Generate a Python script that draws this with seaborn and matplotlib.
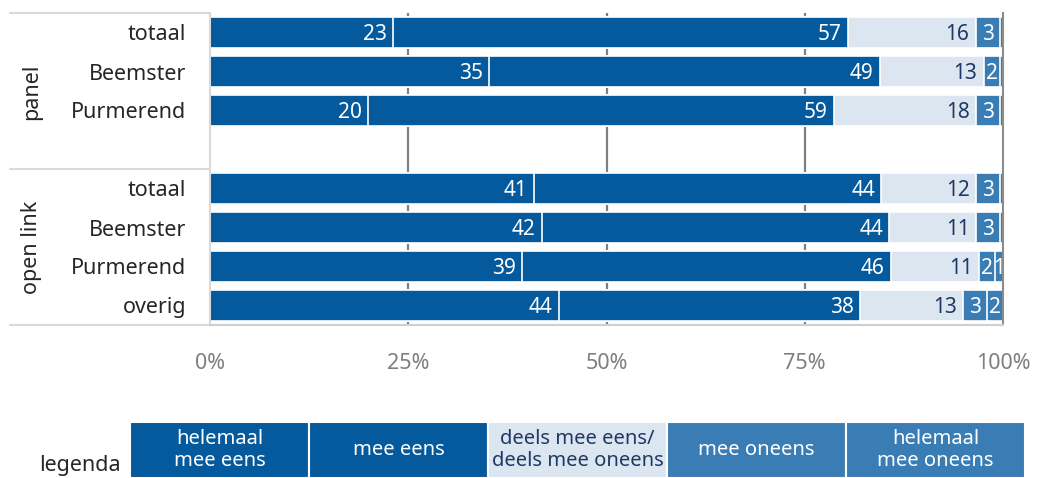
import numpy as np
import pandas as pd
import matplotlib.pyplot as plt
import seaborn as sns

# data (percentages per row)
groups = ["panel", "panel", "panel", "open link", "open link", "open link", "open link"]
rows = ["totaal", "Beemster", "Purmerend", "totaal", "Beemster", "Purmerend", "overig"]
helemaal_eens = [23, 35, 20, 41, 42, 39, 44]
mee_eens = [57, 49, 59, 44, 44, 46, 38]
deels = [16, 13, 18, 12, 11, 11, 13]
mee_oneens = [3, 2, 3, 3, 3, 2, 3]
helemaal_oneens = [0.4, 0.4, 0.4, 0.4, 0.4, 1, 2]

legend_labels = ["helemaal\nmee eens", "mee eens", "deels mee eens/\ndeels mee oneens",
                 "mee oneens", "helemaal\nmee oneens"]
xticks = [0, 25, 50, 75, 100]

dark = "#045a9c"
light = "#dce6f1"
mid = "#3a7db5"
colors = [dark, dark, light, mid, mid]
text_colors = ["white", "white", "#1f3864", "white", "white"]

sns.set_style("white")
plt.rcParams["font.family"] = ["Noto Sans", "DejaVu Sans"]

series = [helemaal_eens, mee_eens, deels, mee_oneens, helemaal_oneens]
vals = np.array(series, dtype=float)
vals = vals / vals.sum(axis=0) * 100
cum = vals.cumsum(axis=0)

keys = [f"{g}|{r}" for g, r in zip(groups, rows)]
order = keys[:3] + ["gap"] + keys[3:]

W, H = 1038, 478
fig = plt.figure(figsize=(W / 100, H / 100), dpi=100)
ax = fig.add_axes([210 / W, 1 - 325 / H, 793 / W, 312 / H])

# stacked bars: draw cumulative totals from the right-most segment down
for i in range(4, -1, -1):
    df = pd.DataFrame({"key": keys, "x": cum[i]})
    sns.barplot(data=df, y="key", x="x", order=order, color=colors[i], saturation=1,
                width=0.78, edgecolor="white", linewidth=1.2, ax=ax, zorder=2)

# value labels
for j, key in enumerate(keys):
    yy = order.index(key)
    for i in range(5):
        raw = series[i][j]
        if raw < 1:
            continue
        if i < 3:
            ax.text(cum[i, j] - 0.8, yy + 0.05, str(raw), ha="right", va="center",
                    color=text_colors[i], fontsize=15, zorder=3)
        else:
            ax.text(cum[i, j] - vals[i, j] / 2, yy + 0.05, str(raw), ha="center", va="center",
                    color=text_colors[i], fontsize=15, zorder=3)

ax.set_xlim(0, 100)
ax.set_ylim(7.5, -0.5)
ax.set_xlabel("")
ax.set_ylabel("")
ax.set_yticks(range(len(order)))
ax.set_yticklabels([k.split("|")[1] if "|" in k else "" for k in order], fontsize=15.5)
ax.set_xticks(xticks)
ax.set_xticklabels([f"{t}%" for t in xticks], fontsize=15.5, color="#7f7f7f")
ax.tick_params(axis="both", length=0)
ax.tick_params(axis="y", pad=17)
ax.tick_params(axis="x", pad=20)

ax.set_axisbelow(True)
ax.grid(False)
for t in [25, 50, 75]:
    ax.axvline(t, color="#7f7f7f", lw=1.6, zorder=0)
ax.spines["top"].set_visible(False)
ax.spines["left"].set_color("#d9d9d9")
ax.spines["left"].set_linewidth(1.5)
ax.spines["right"].set_color("#8c8c8c")
ax.spines["right"].set_linewidth(1.5)
ax.spines["bottom"].set_color("#cfcfcf")
ax.spines["bottom"].set_linewidth(1.5)

# group separators on the left
tr = ax.get_yaxis_transform()
for yl in [-0.5, 3.5, 7.5]:
    ax.plot([-200 / 793, 0], [yl, yl], transform=tr, color="#d9d9d9", lw=1.5, clip_on=False)

fig.text(32 / W, 1 - 92 / H, "panel", rotation=90, ha="center", va="center", fontsize=15.5)
fig.text(32 / W, 1 - 247 / H, "open link", rotation=90, ha="center", va="center", fontsize=15.5)

# legend strip
lax = fig.add_axes([130 / W, 0, 895 / W, 56 / H])
lax.bar(np.arange(5), 1, width=1, align="edge", color=colors, edgecolor="white", linewidth=1.5)
for i, lab in enumerate(legend_labels):
    lax.text(i + 0.5, 0.5, lab, ha="center", va="center", color=text_colors[i],
             fontsize=14.5, linespacing=1.2)
lax.set_xlim(0, 5)
lax.set_ylim(0, 1)
lax.axis("off")
fig.text(80 / W, 1 - 465 / H, "legenda", ha="center", va="center", fontsize=15.5)

fig.savefig("out.png", dpi=100)
